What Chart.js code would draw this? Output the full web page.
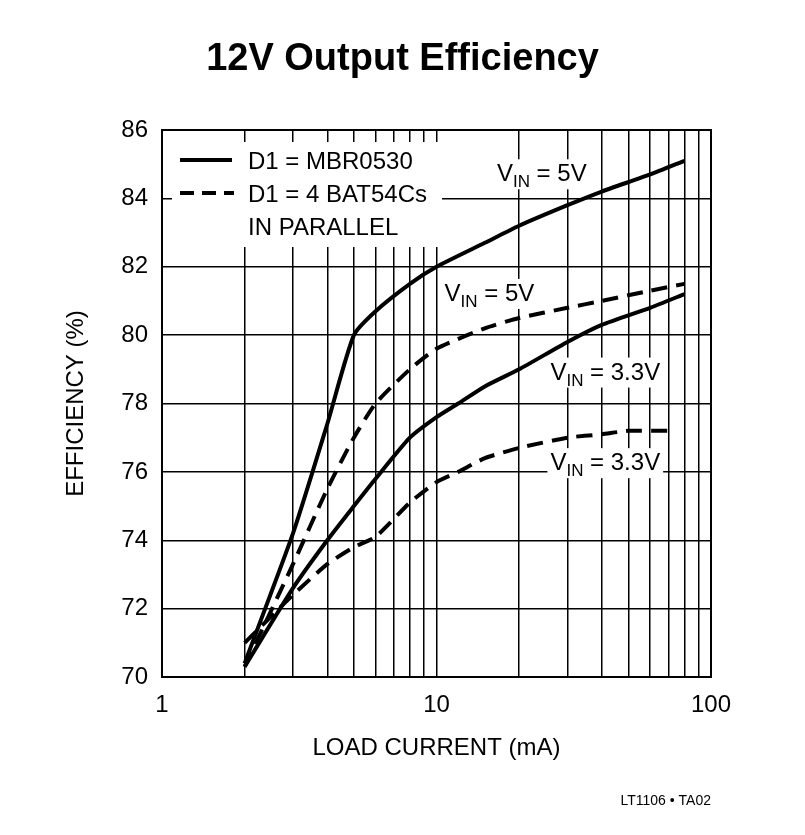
<!DOCTYPE html>
<html><head><meta charset="utf-8">
<script src="https://cdn.jsdelivr.net/npm/chart.js@4.4.0/dist/chart.umd.min.js"></script>
<style>html,body{margin:0;background:#fff}#w{width:805px;height:835px}</style>
</head><body><div id="w"><canvas id="c"></canvas></div>
<script>
const FONT = "'Liberation Sans Narrow','Liberation Sans',Arial,sans-serif";
const xTicks = [1,2,3,4,5,6,7,8,9,10,20,30,40,50,60,70,80,90,100];
const xLabels = {1:'1',10:'10',100:'100'};
const yTicks = [70,72,74,76,78,80,82,84,86];
const solid5X = [2,3,4,5,6,8,10,15,20,30,40,60,80];
const solid5Y = [70.4,74.2,77.4,80,80.7,81.5,82,82.7,83.2,83.8,84.2,84.7,85.1];
const dash5X = [2,3,4,5,6,8,10,15,20,30,40,60,80];
const dash5Y = [70.3,73.3,75.5,77,78,79,79.6,80.2,80.5,80.8,81,81.3,81.5];
const solid33X = [2,3,4,5,6,8,10,12,15,20,30,40,60,80];
const solid33Y = [70.3,72.6,74,75,75.8,77,77.6,78,78.5,79,79.8,80.3,80.8,81.2];
const dash33X = [2,3,4,5,6,8,10,12,15,20,30,40,50,70];
const dash33Y = [71,72.4,73.3,73.8,74.1,75.1,75.7,76,76.4,76.7,77,77.1,77.2,77.2];
const pts=(xs,ys)=>xs.map((x,i)=>({x,y:ys[i]}));
const ds=(d,dash)=>({data:d,borderColor:'#000',borderWidth:4,borderDash:dash,pointRadius:0,tension:0.2,fill:false,borderCapStyle:'butt'});

function vin(ctx,x,y,val){
  ctx.font='24px '+FONT; ctx.textBaseline='alphabetic'; ctx.textAlign='left';
  let w1=ctx.measureText('V').width; ctx.font='17px '+FONT; let w2=ctx.measureText('IN').width;
  ctx.font='24px '+FONT; let w3=ctx.measureText(' = '+val).width;
  ctx.fillStyle='#fff'; ctx.fillRect(x-3,y-22,w1+w2+w3+6,30);
  ctx.fillStyle='#000';
  ctx.fillText('V',x,y); ctx.font='17px '+FONT; ctx.fillText('IN',x+w1,y+6);
  ctx.font='24px '+FONT; ctx.fillText(' = '+val,x+w1+w2,y);
}
const deco={id:'deco',afterDatasetsDraw(ch){
  const c=ch.ctx,xs=ch.scales.x,ys=ch.scales.y,a=ch.chartArea;
  c.save();
  c.strokeStyle='#000';c.lineWidth=2;c.strokeRect(a.left,a.top,a.right-a.left,a.bottom-a.top);
  c.fillStyle='#000';c.font='bold 38px '+FONT;c.textAlign='center';c.fillText('12V Output Efficiency',ch.width/2,70);
  c.fillStyle='#fff';c.fillRect(a.left+10,a.top+12,270,105);
  c.fillStyle='#000';c.strokeStyle='#000';c.lineWidth=4;
  c.beginPath();c.moveTo(a.left+18,a.top+30);c.lineTo(a.left+70,a.top+30);c.stroke();
  c.setLineDash([14,8]);c.beginPath();c.moveTo(a.left+18,a.top+63);c.lineTo(a.left+72,a.top+63);c.stroke();c.setLineDash([]);
  c.font='24px '+FONT;c.textAlign='left';
  c.fillText('D1 = MBR0530',a.left+86,a.top+39);
  c.fillText('D1 = 4 BAT54Cs',a.left+86,a.top+72);
  c.fillText('IN PARALLEL',a.left+86,a.top+105);
  vin(c,xs.getPixelForValue(16.6),ys.getPixelForValue(84.5),'5V');
  vin(c,xs.getPixelForValue(10.7),ys.getPixelForValue(81.0),'5V');
  vin(c,xs.getPixelForValue(26),ys.getPixelForValue(78.7),'3.3V');
  vin(c,xs.getPixelForValue(26),ys.getPixelForValue(76.05),'3.3V');
  c.font='14px '+FONT;c.textAlign='right';c.fillText('LT1106 • TA02',a.right,805);
  c.restore();
}};
new Chart(document.getElementById('c'),{type:'line',
 data:{datasets:[ds(pts(solid5X,solid5Y),[]),ds(pts(dash5X,dash5Y),[16,9]),ds(pts(solid33X,solid33Y),[]),ds(pts(dash33X,dash33Y),[16,9])]},
 options:{responsive:true,maintainAspectRatio:false,animation:false,
  layout:{padding:{top:130,right:94,left:58,bottom:68}},
  plugins:{legend:{display:false},tooltip:{enabled:false}},
  scales:{
   x:{type:'logarithmic',min:1,max:100,afterBuildTicks:s=>{s.ticks=xTicks.map(v=>({value:v}))},
      afterFit:s=>{s.height=90},
      grid:{color:'#000',lineWidth:1.5,drawTicks:false},border:{display:false},
      ticks:{autoSkip:false,maxRotation:0,padding:14,color:'#000',font:{family:FONT,size:24},callback:v=>xLabels[v]||''},
      title:{display:true,text:'LOAD CURRENT (mA)',color:'#000',font:{family:FONT,size:24},padding:{top:8}}},
   y:{min:70,max:86,afterBuildTicks:s=>{s.ticks=yTicks.map(v=>({value:v}))},
      afterFit:s=>{s.width=104},
      grid:{color:'#000',lineWidth:1.5,drawTicks:false},border:{display:false},
      ticks:{padding:14,color:'#000',font:{family:FONT,size:24}},
      title:{display:true,text:'EFFICIENCY (%)',color:'#000',font:{family:FONT,size:24},padding:{bottom:6}}}
  }},plugins:[deco]});
</script></body></html>
